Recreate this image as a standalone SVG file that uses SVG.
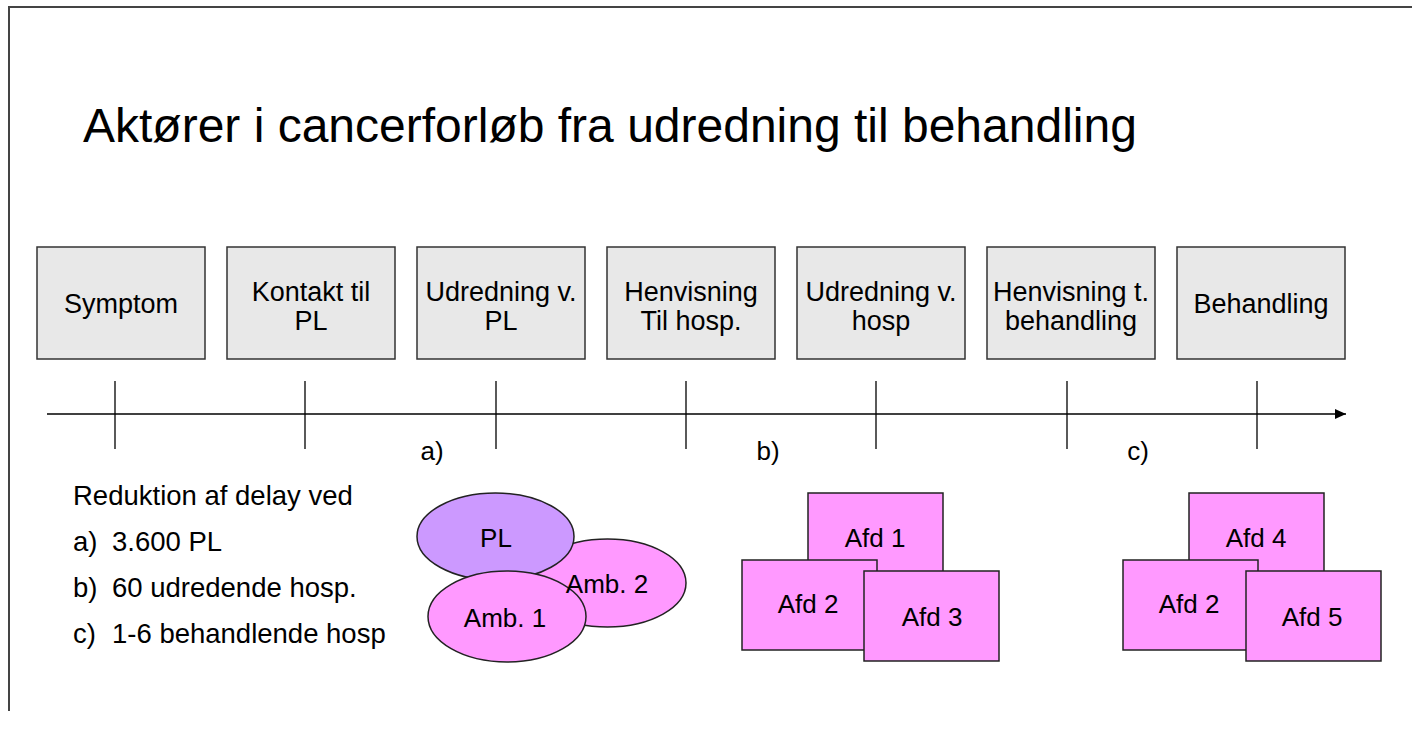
<svg xmlns="http://www.w3.org/2000/svg" width="1412" height="730" viewBox="0 0 1412 730">
<defs>
<style>
text{font-family:"Liberation Sans",Arial,sans-serif;fill:#000}
.step{fill:#E8E8E8;stroke:#333;stroke-width:1.5}
.t{font-size:27px;text-anchor:middle}
.pink{fill:#FF99FF;stroke:#222;stroke-width:1.5}
.purple{fill:#CC99FF;stroke:#222;stroke-width:1.5}
.lbl{font-size:26px;text-anchor:middle}
.ax{stroke:#000;stroke-width:1.3;fill:none}
.lst{font-size:27.5px}
</style>
<marker id="arr" viewBox="0 0 11 10" refX="11" refY="5" markerWidth="11" markerHeight="10" markerUnits="userSpaceOnUse" orient="auto">
<path d="M0,0 L11,5 L0,10 Z" fill="#000"/>
</marker>
</defs>
<rect width="1412" height="730" fill="#fff"/>
<g id="frame" stroke="#444" stroke-width="2" fill="none">
<path d="M9,711 V7 H1412"/>
</g>
<text id="title" x="83" y="142" font-size="48">Aktører i cancerforløb fra udredning til behandling</text>

<g id="step-symptom"><rect class="step" x="37" y="247" width="168" height="112"/><text class="t" x="121" y="313">Symptom</text></g>
<g id="step-kontakt"><rect class="step" x="227" y="247" width="168" height="112"/><text class="t" x="311" y="301">Kontakt til</text><text class="t" x="311" y="330">PL</text></g>
<g id="step-udredning-pl"><rect class="step" x="417" y="247" width="168" height="112"/><text class="t" x="501" y="301">Udredning v.</text><text class="t" x="501" y="330">PL</text></g>
<g id="step-henvisning-hosp"><rect class="step" x="607" y="247" width="168" height="112"/><text class="t" x="691" y="301">Henvisning</text><text class="t" x="691" y="330">Til hosp.</text></g>
<g id="step-udredning-hosp"><rect class="step" x="797" y="247" width="168" height="112"/><text class="t" x="881" y="301">Udredning v.</text><text class="t" x="881" y="330">hosp</text></g>
<g id="step-henvisning-beh"><rect class="step" x="987" y="247" width="168" height="112"/><text class="t" x="1071" y="301">Henvisning t.</text><text class="t" x="1071" y="330">behandling</text></g>
<g id="step-behandling"><rect class="step" x="1177" y="247" width="168" height="112"/><text class="t" x="1261" y="313">Behandling</text></g>

<g id="connectors">
<line class="ax" x1="47" y1="414" x2="1346" y2="414" marker-end="url(#arr)"/>
<line class="ax" x1="115" y1="381" x2="115" y2="449"/>
<line class="ax" x1="305" y1="381" x2="305" y2="449"/>
<line class="ax" x1="496" y1="381" x2="496" y2="449"/>
<line class="ax" x1="686" y1="381" x2="686" y2="449"/>
<line class="ax" x1="876" y1="381" x2="876" y2="449"/>
<line class="ax" x1="1067" y1="381" x2="1067" y2="449"/>
<line class="ax" x1="1257" y1="381" x2="1257" y2="449"/>
</g>
<g id="phase-labels">
<text class="lbl" x="432" y="460">a)</text>
<text class="lbl" x="768" y="460">b)</text>
<text class="lbl" x="1138" y="460">c)</text>
</g>

<g id="legend" class="lst">
<text x="73" y="505">Reduktion af delay ved</text>
<text x="73" y="551">a)</text><text x="112" y="551">3.600 PL</text>
<text x="73" y="597">b)</text><text x="112" y="597">60 udredende hosp.</text>
<text x="73" y="643">c)</text><text x="112" y="643">1-6 behandlende hosp</text>
</g>

<g id="actors-a">
<g id="amb2"><ellipse class="pink" cx="607.5" cy="583" rx="78.5" ry="44"/></g>
<g id="pl"><ellipse class="purple" cx="495.5" cy="536.5" rx="78.5" ry="43.5"/></g>
<g id="amb1"><ellipse class="pink" cx="507" cy="616.5" rx="79" ry="45.5"/></g>
<text class="lbl" x="496" y="547">PL</text>
<text class="lbl" x="607" y="593">Amb. 2</text>
<text class="lbl" x="505" y="627">Amb. 1</text>
</g>

<g id="actors-b">
<g id="afd1-b"><rect class="pink" x="808" y="493" width="135" height="89"/><text class="lbl" x="875" y="547">Afd 1</text></g>
<g id="afd2-b"><rect class="pink" x="742" y="560" width="135" height="90"/><text class="lbl" x="808" y="613">Afd 2</text></g>
<g id="afd3-b"><rect class="pink" x="864" y="571" width="135" height="90"/><text class="lbl" x="932" y="626">Afd 3</text></g>
</g>

<g id="actors-c">
<g id="afd4-c"><rect class="pink" x="1189" y="493" width="135" height="89"/><text class="lbl" x="1256" y="547">Afd 4</text></g>
<g id="afd2-c"><rect class="pink" x="1123" y="560" width="135" height="90"/><text class="lbl" x="1189" y="613">Afd 2</text></g>
<g id="afd5-c"><rect class="pink" x="1246" y="571" width="135" height="90"/><text class="lbl" x="1312" y="626">Afd 5</text></g>
</g>
</svg>
